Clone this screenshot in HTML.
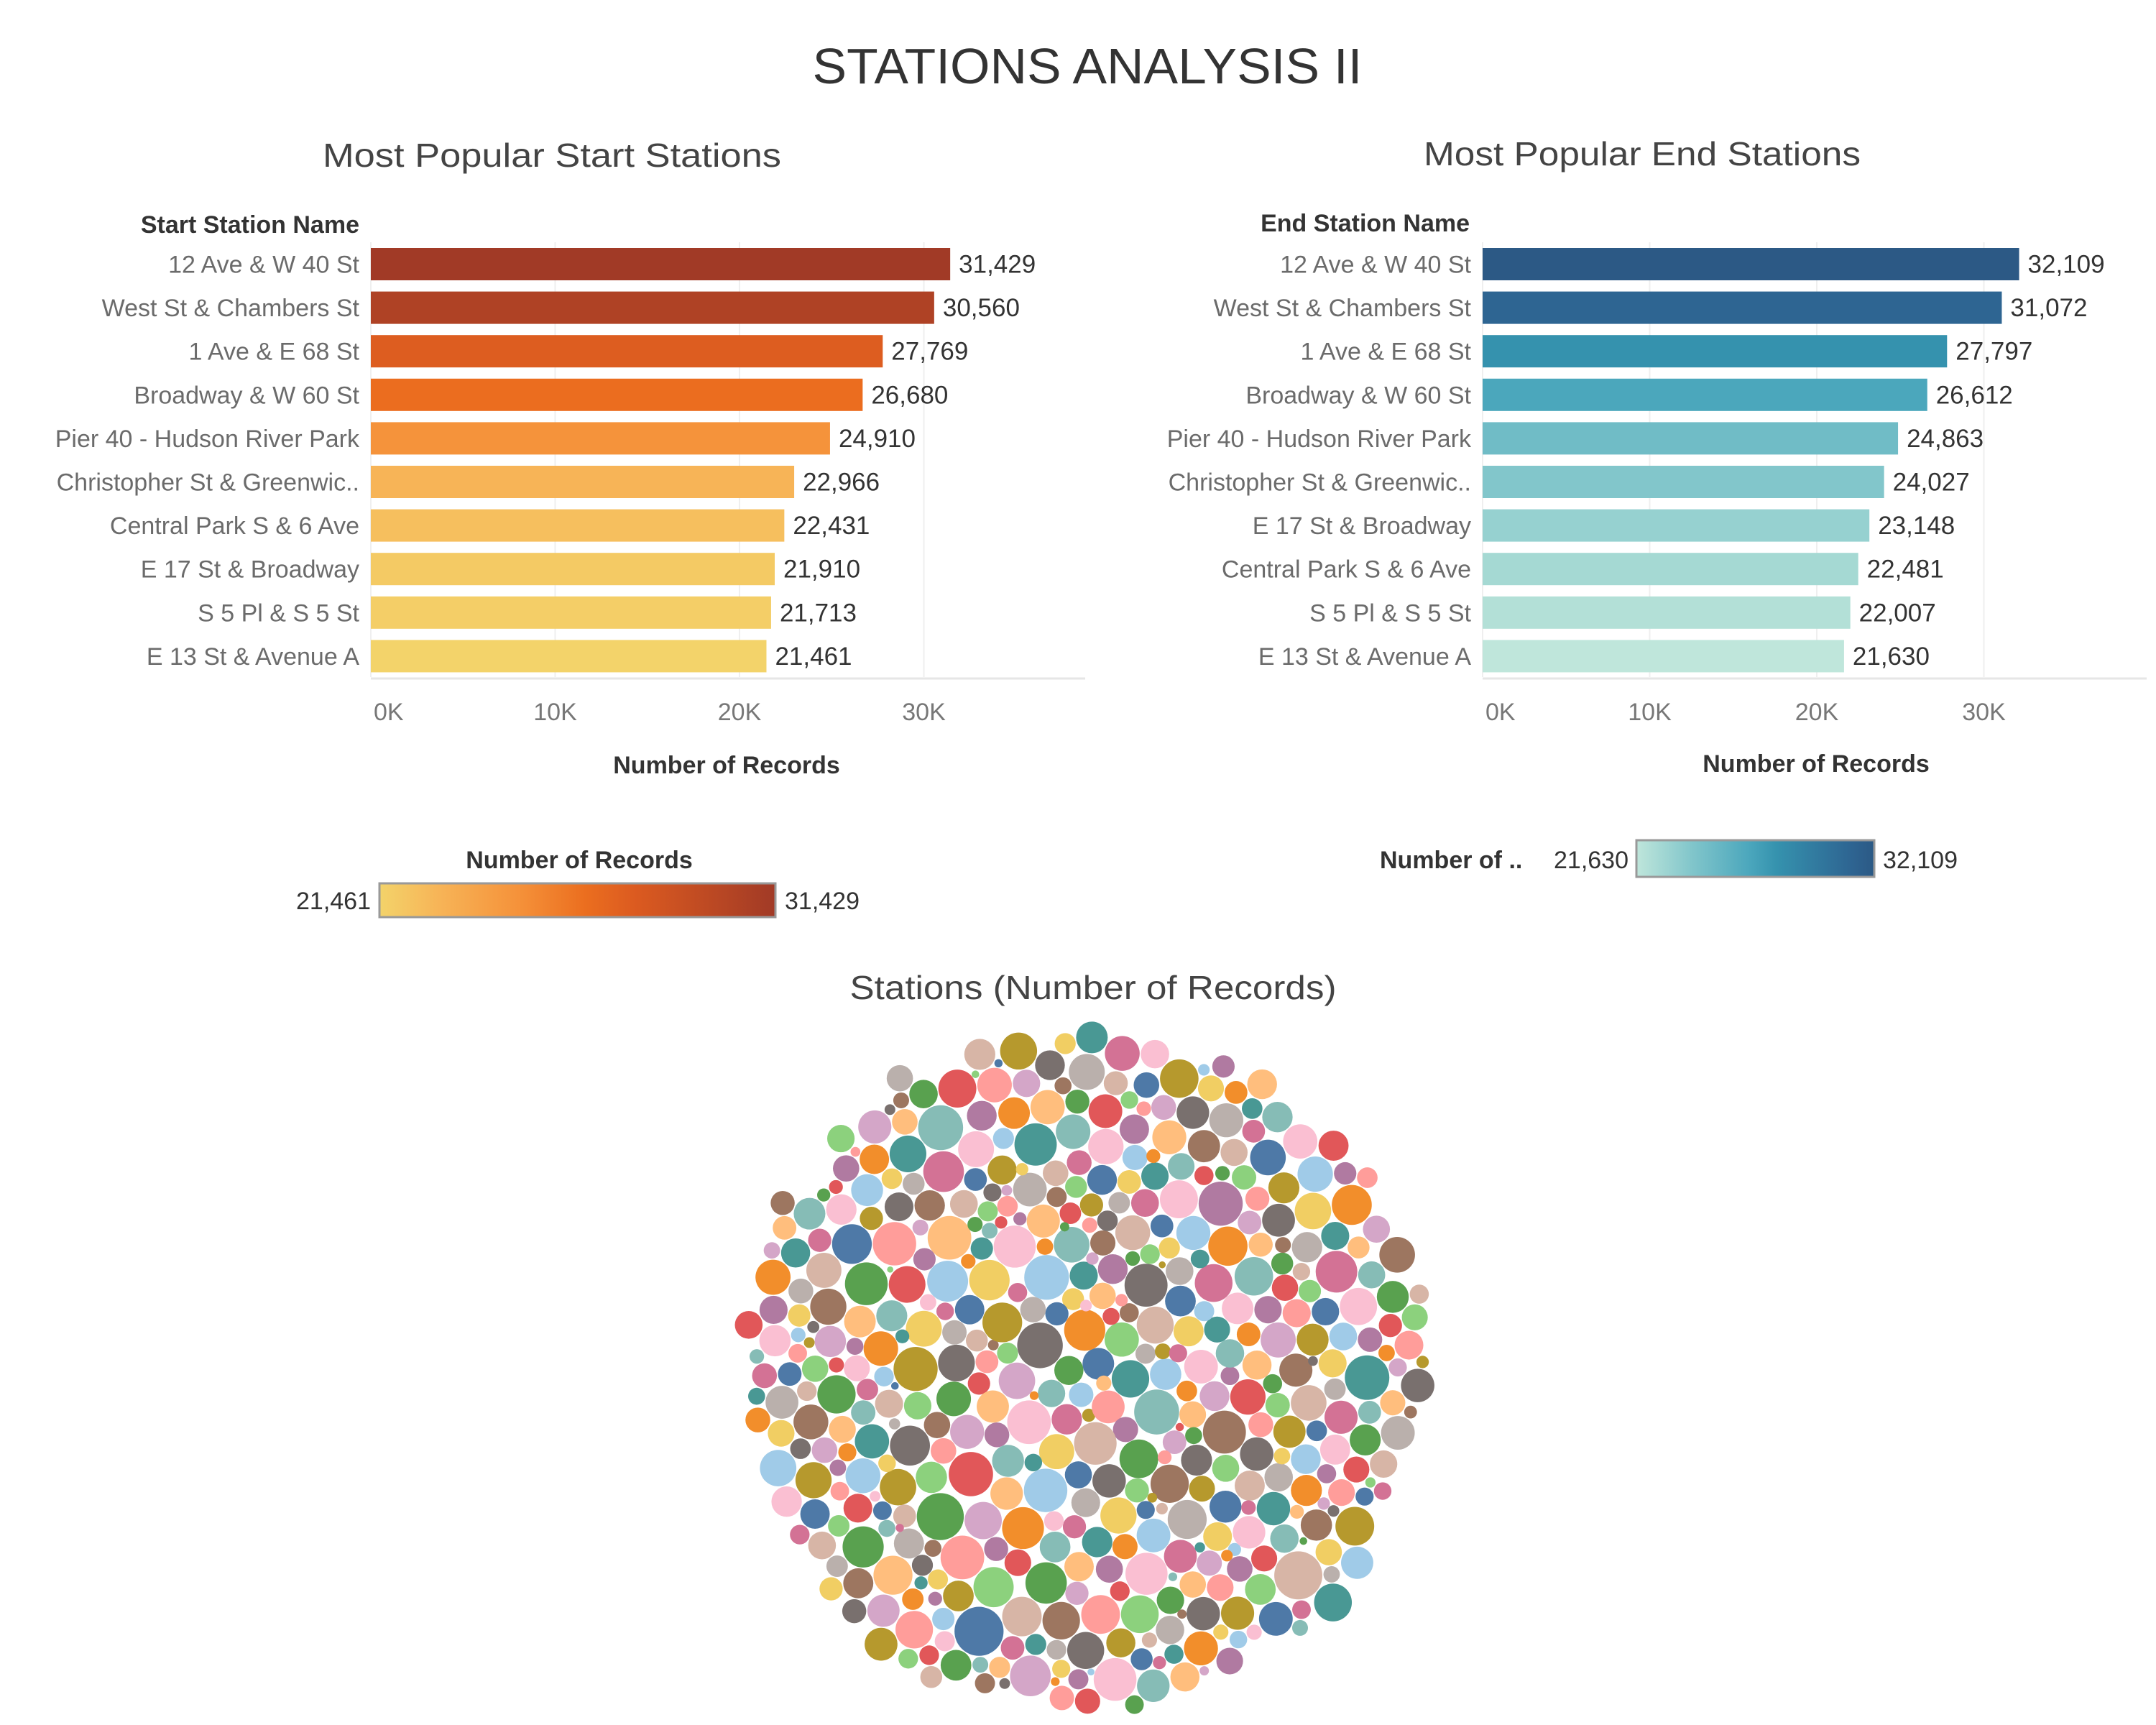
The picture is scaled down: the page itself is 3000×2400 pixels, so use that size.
<!DOCTYPE html>
<html><head><meta charset="utf-8"><title>Stations Analysis II</title>
<style>
html,body{margin:0;padding:0;background:#fff;}
svg{display:block;font-family:"Liberation Sans",sans-serif;}
</style></head>
<body>
<svg id="dash" width="3000" height="2400" viewBox="0 0 3000 2400" xmlns="http://www.w3.org/2000/svg">
<rect width="3000" height="2400" fill="#fff"/>
<text x="1513" y="116" text-anchor="middle" font-size="70" fill="#333" textLength="765" lengthAdjust="spacingAndGlyphs">STATIONS ANALYSIS II</text>
<text x="768" y="232" text-anchor="middle" font-size="46" fill="#444" textLength="638" lengthAdjust="spacingAndGlyphs">Most Popular Start Stations</text>
<text x="2285" y="230" text-anchor="middle" font-size="46" fill="#444" textLength="608" lengthAdjust="spacingAndGlyphs">Most Popular End Stations</text>
<text x="500" y="324" text-anchor="end" font-size="34" font-weight="bold" fill="#333">Start Station Name</text>
<text x="2045" y="322" text-anchor="end" font-size="34" font-weight="bold" fill="#333">End Station Name</text>
<g id="startChart"></g>
<g id="endChart"></g>
<text x="1011" y="1076" text-anchor="middle" font-size="34" font-weight="bold" fill="#333">Number of Records</text>
<text x="2527" y="1074" text-anchor="middle" font-size="34" font-weight="bold" fill="#333">Number of Records</text>

<defs>
<linearGradient id="gradL" x1="0" x2="1" y1="0" y2="0">
<stop offset="0" stop-color="#F3D36A"/><stop offset="0.15" stop-color="#F7B457"/><stop offset="0.35" stop-color="#F5923A"/><stop offset="0.52" stop-color="#EB6E1F"/><stop offset="0.65" stop-color="#DB5A20"/><stop offset="1" stop-color="#A13A26"/>
</linearGradient>
<linearGradient id="gradR" x1="0" x2="1" y1="0" y2="0">
<stop offset="0" stop-color="#BFE6DB"/><stop offset="0.23" stop-color="#82C6CB"/><stop offset="0.48" stop-color="#4AA6BC"/><stop offset="0.59" stop-color="#3592AE"/><stop offset="0.9" stop-color="#2E6592"/><stop offset="1" stop-color="#2C5985"/>
</linearGradient>
</defs>
<g>
<text x="806" y="1208" text-anchor="middle" font-size="34" font-weight="bold" fill="#333">Number of Records</text>
<rect x="528" y="1229" width="551" height="47" fill="url(#gradL)" stroke="#999" stroke-width="3"/>
<text x="516" y="1265" text-anchor="end" font-size="34" fill="#333">21,461</text>
<text x="1092" y="1265" font-size="34" fill="#333">31,429</text>
</g>
<g>
<text x="1920" y="1208" font-size="34" font-weight="bold" fill="#333">Number of ..</text>
<rect x="2277" y="1169" width="331" height="51" fill="url(#gradR)" stroke="#999" stroke-width="3"/>
<text x="2266" y="1208" text-anchor="end" font-size="34" fill="#333">21,630</text>
<text x="2620" y="1208" font-size="34" fill="#333">32,109</text>
</g>
<text x="1521" y="1390" text-anchor="middle" font-size="46" fill="#444" textLength="677" lengthAdjust="spacingAndGlyphs">Stations (Number of Records)</text>
<g id="bubbles"></g>
</svg>
<script>
const startStations=["12 Ave & W 40 St","West St & Chambers St","1 Ave & E 68 St","Broadway & W 60 St","Pier 40 - Hudson River Park","Christopher St & Greenwic..","Central Park S & 6 Ave","E 17 St & Broadway","S 5 Pl & S 5 St","E 13 St & Avenue A"];
const startValues=[31429,30560,27769,26680,24910,22966,22431,21910,21713,21461];
const endStations=["12 Ave & W 40 St","West St & Chambers St","1 Ave & E 68 St","Broadway & W 60 St","Pier 40 - Hudson River Park","Christopher St & Greenwic..","E 17 St & Broadway","Central Park S & 6 Ave","S 5 Pl & S 5 St","E 13 St & Avenue A"];
const endValues=[32109,31072,27797,26612,24863,24027,23148,22481,22007,21630];
const tickValues=[0,10000,20000,30000];
const tickLabels=["0K","10K","20K","30K"];
const bubbleValues=[
5200,3100,8800,1200,4400,6100,900,2500,7300,3900,1500,5600,10800,2100,4800,700,3300,6900,1900,9400,
2800,5100,400,3600,7800,2300,1300,6400,4100,10500,2600,800,5800,3400,1700,9900,4600,2900,600,7100,
3800,10400,2200,5400,1100,3000,8200,4700,1600,6600,350,2700,9600,4300,1900,5900,3200,800,7600,2500,
4900,9800,1400,3700,6200,2000,500,8500,3500,5300,2400,1000,7000,4000,2800,9200,1800,6000,3300,700,
4500,2100,9100,5700,1500,3900,250,6800,2600,4200,10200,1200,5000,3100,7400,2000,900,4600,3600,6300,
1700,8700,2900,5500,450,3800,10100,2300,4800,1300,6500,3400,2200,7900,1600,5200,3000,600,9600,4100,
2700,5900,1100,4400,11500,2500,3500,6700,1800,4900,800,3200,8300,2400,5600,1400,3900,7200,2100,4700,
300,6000,3300,9900,1900,5100,2800,4300,1000,7700,3700,2200,5800,650,4000,9200,2600,6400,1500,3400,
5300,2000,8000,4500,1200,3100,6900,2900,550,5000,3600,9900,1700,4200,2400,7500,3800,1300,5700,2700,
4600,900,6200,3000,8900,2100,5400,1600,3900,400,7000,4100,2300,5900,1100,3500,10100,2800,4800,6600,
1800,3300,700,5200,2500,8400,4400,1400,6100,3700,2000,9800,500,4700,3200,5500,1500,2900,7300,4000,
2200,6300,1000,3600,9500,2600,4900,800,5800,3100,1900,7800,4300,2400,350,6500,3400,5100,1300,8100,
2700,4600,1700,6000,3900,200,5300,2100,9300,4200,1200,3000,7100,2500,5700,600,4500,3300,6800,1600,
12500,2300,5000,3800,1100,7400,2800,4100,900,6200,3500,1800,5600,2000,8600,4700,1400,3200,450,6400,
3900,2600,5200,1000,7600,3100,4400,2200,10300,1500,5900,3700,750,4800,2900,6700,1900,3400,5400,1200,
8200,4000,2400,6100,300,3600,5000,1700,7000,2700,4300,1100,5800,3200,9000,2100,4600,800,6300,3800,
2500,5300,1400,7900,3000,4900,600,6900,2300,10500,3500,1800,5500,4200,2800,7200,1000,3900,5100,2000,
6600,250,4500,3300,8800,1600,5700,2600,4100,1300,7500,3700,2200,6000,900,4800,3100,5400,1500,12000,
2900,6500,400,3400,5000,2400,7700,1200,4400,3800,2000,6200,700,5600,2700,9500,3600,1700,4700,3000,
5900,1100,8300,2300,4200,550,6800,3500,1900,5200,2800,7300,4600,1400,3200,6100,2100,5700,850,4000,
3400,1600,6400,2500,4900,300,7800,3700,2200,5500,1000,4300,3000,6700,1800,5100,2600,8600,1300,3900,
4500,700,6000,2900,5300,2000,7100,3600,1500,4800,3300,500,5800,2400,6300,1200,4100,3800,2100,5000,
1700,6900,2700,4400,900,3500,5600,2300,7400,1100,4700,3100,600,5900,2000,4200,3700,1400,6600,2500,
350,5400,3200,4600,1800,3900,800,2800,5200,1300,4000,2200,600,3600,1600,4800,2600,450,3000,1900];
const bubbleColors=["#4E79A7","#A0CBE8","#F28E2B","#FFBE7D","#59A14F","#8CD17D","#B6992D","#F1CE63","#499894","#86BCB6","#E15759","#FF9D9A","#79706E","#BAB0AC","#D37295","#FABFD2","#B07AA1","#D4A6C8","#9D7660","#D7B5A6"];

const NS="http://www.w3.org/2000/svg";
function mk(tag,attrs,parent){const e=document.createElementNS(NS,tag);for(const k in attrs)e.setAttribute(k,attrs[k]);parent.appendChild(e);return e;}
function hex(c){return [parseInt(c.slice(1,3),16),parseInt(c.slice(3,5),16),parseInt(c.slice(5,7),16)];}
function ramp(stops,t){t=Math.max(0,Math.min(1,t));for(let i=1;i<stops.length;i++){if(t<=stops[i][0]){const a=stops[i-1],b=stops[i];const u=(t-a[0])/(b[0]-a[0]||1);const ca=hex(a[1]),cb=hex(b[1]);return "rgb("+ca.map((v,j)=>Math.round(v+(cb[j]-v)*u)).join(",")+")";}}return stops[stops.length-1][1];}
const stopsL=[[0,"#F3D36A"],[0.15,"#F7B457"],[0.35,"#F5923A"],[0.52,"#EB6E1F"],[0.65,"#DB5A20"],[1,"#A13A26"]];
const stopsR=[[0,"#BFE6DB"],[0.08,"#A5D9D3"],[0.23,"#82C6CB"],[0.48,"#4AA6BC"],[0.59,"#3592AE"],[0.9,"#2E6592"],[1,"#2C5985"]];

function barChart(g,names,values,x0,pxPer10k,axisEnd,stops,prefix){
  const xs=v=>x0+v/10000*pxPer10k;
  const top0=345,pitch=60.6,bh=45;
  const mn=Math.min(...values),mx=Math.max(...values);
  tickValues.forEach((tv,i)=>{
    const gl=mk('line',{x1:xs(tv),x2:xs(tv),y1:337,y2:942,stroke:'#efefef','stroke-width':2},g);
    
    
    const t=mk('text',{x:xs(tv)+(i===0?4:0),y:1002,'text-anchor':i===0?'start':'middle','font-size':34,fill:'#777'},g);
    t.textContent=tickLabels[i];
    
    
  });
  const ax=mk('line',{x1:x0,x2:axisEnd,y1:944,y2:944,stroke:'#e6e6e6','stroke-width':3},g);
  
  
  names.forEach((n,i)=>{
    const y=top0+i*pitch;
    const r=mk('rect',{x:x0,y:y,width:xs(values[i])-x0,height:bh,fill:ramp(stops,(values[i]-mn)/(mx-mn))},g);
    
    
    const l=mk('text',{x:x0-16,y:y+bh/2+12,'text-anchor':'end','font-size':34,fill:'#6b6b6b'},g);
    l.textContent=n;
    
    
    const v=mk('text',{x:xs(values[i])+12,y:y+bh/2+12,'font-size':35,fill:'#333'},g);
    v.textContent=values[i].toLocaleString('en-US');
    
    
  });
}
barChart(document.getElementById('startChart'),startStations,startValues,516,256.5,1510,stopsL,'start');
barChart(document.getElementById('endChart'),endStations,endValues,2063,232.5,2987,stopsR,'end');

// packed bubbles: spiral seed + collision relaxation
(function(){
  const g=document.getElementById('bubbles');
  const cx=1508,cy=1908,R=468;
  const sumV=bubbleValues.reduce((a,b)=>a+b,0);
  const k=Math.sqrt(0.82*R*R/sumV);
  const ga=Math.PI*(3-Math.sqrt(5));
  let cum=0;
  const P=bubbleValues.map((v,i)=>{
    const r=k*Math.sqrt(v);
    cum+=r*r;
    const rr=Math.sqrt(cum/0.82)-r*0.5;
    const a=i*ga;
    return {x:Math.max(0,rr)*Math.cos(a),y:Math.max(0,rr)*Math.sin(a),r:r};
  });
  const n=P.length;
  for(let it=0;it<300;it++){
    const s=it<200?0.998:1;
    for(let i=0;i<n;i++){const p=P[i];p.x*=s;p.y*=s;}
    for(let i=0;i<n;i++){const a=P[i];
      for(let j=i+1;j<n;j++){const b=P[j];
        const dx=b.x-a.x,dy=b.y-a.y,md=a.r+b.r+1.5;
        if(Math.abs(dx)>md||Math.abs(dy)>md)continue;
        const d2=dx*dx+dy*dy;
        if(d2<md*md){const d=Math.sqrt(d2)||0.01;const o=(md-d)/d*0.5;
          const wa=b.r*b.r/(a.r*a.r+b.r*b.r),wb=1-wa;
          a.x-=dx*o*wa*2;a.y-=dy*o*wa*2;b.x+=dx*o*wb*2;b.y+=dy*o*wb*2;}
      }
    }
  }
  P.forEach((p,i)=>{
    const c=mk('circle',{cx:cx+p.x,cy:cy+p.y,r:Math.max(1.5,p.r),fill:bubbleColors[i%bubbleColors.length]},g);
    
    
  });
})();
</script>
</body></html>
